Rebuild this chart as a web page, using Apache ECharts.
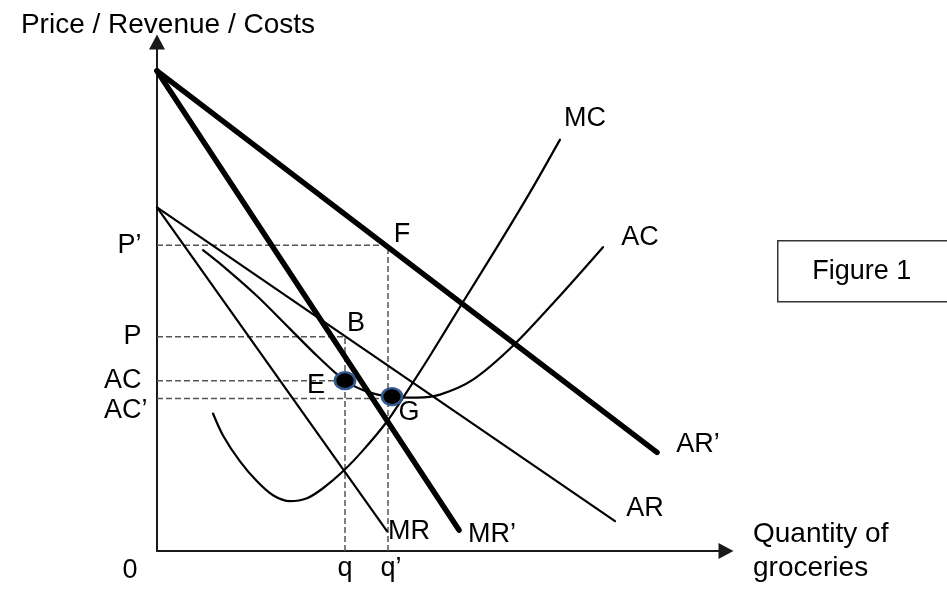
<!DOCTYPE html>
<html lang="en">
<head>
<meta charset="UTF-8">
<title>Figure 1</title>
<script src="https://cdn.jsdelivr.net/npm/echarts@6/dist/echarts.min.js"></script>
<style>
    html, body {
        margin: 0;
        padding: 0;
        background: #fff;
        overflow: hidden;
    }
    #chart {
        width: 947px;
        height: 594px;
    }
</style>
</head>
<body>
<div id="chart"></div>
<script>
// revenue lines, [quantity, price]
var arNew = [[0, 482], [500, 99]];   // AR'
var mrNew = [[0, 482], [302, 21]];   // MR'
var ar = [[0, 345], [458, 30]];
var mr = [[0, 345], [230, 20]];

// cost curves
var mc = [[56, 138], [66, 116], [83, 90], [100, 70], [116, 56], [133, 50], [150, 53], [166, 63],
          [186, 80], [206, 101], [230, 130], [250, 160], [273, 196], [306, 250], [340, 305],
          [373, 360], [403, 413]];
var ac = [[46, 302], [66, 286], [100, 256], [133, 223], [160, 196], [188, 171], [210, 160],
          [233, 155], [260, 154], [283, 157], [316, 172], [356, 206], [400, 253], [446, 305]];

// levels on the price axis and where their dashed guide stops
var levelNames = ['P’', 'P', 'AC', 'AC’'];
var levelValues = [307, 215, 171, 153];
var levelEnds = [231, 188, 188, 235];

// quantities on the x axis and how high their guide goes
var qNames = ['q', 'q’'];
var qValues = [188, 231];
var qTops = [215, 307];

// marked points
var pointNames = ['F', 'B', 'E', 'G'];
var pointValues = [[231, 307], [188, 215], [188, 171], [235, 155]];
var dotNames = ['E', 'G'];

var font = 'Liberation Sans, Arial, sans-serif';
var txt = { color: '#000', fontSize: 27, fontFamily: font };

// label offsets (text centre relative to anchor, px)
var curveLabelOffset = { 'MC': [25, -21], 'AC': [37, -10], 'AR’': [41, -8], 'AR': [30, -13], 'MR': [22, 0], 'MR’': [33, 4] };
var pointLabelOffset = { F: [14, -11], B: [11, -13], E: [-29, 5], G: [17, 16] };

function curve(data, width, smooth) {
    return {
        type: 'line', data: data, smooth: smooth, symbol: 'none', silent: true, z: 3,
        lineStyle: { color: '#000', width: width, cap: 'round', join: 'round' }
    };
}

var dash = { color: '#555', width: 1.5, type: [6, 3] };
var series = [];

levelNames.forEach(function (n, i) {
    series.push({
        type: 'line', symbol: 'none', silent: true, z: 1, lineStyle: dash,
        data: [[0, levelValues[i]], [levelEnds[i], levelValues[i]]]
    });
});
qNames.forEach(function (n, i) {
    series.push({
        type: 'line', symbol: 'none', silent: true, z: 1, lineStyle: dash,
        data: [[qValues[i], 0], [qValues[i], qTops[i]]]
    });
});

series.push(curve(ar, 2.2, false));
series.push(curve(mr, 2.2, false));
series.push(curve(mc, 2.2, 0.3));
series.push(curve(ac, 2.2, 0.3));
series.push(curve(arNew, 5.5, false));
series.push(curve(mrNew, 5.5, false));

// E and G dots
series.push({
    type: 'scatter', z: 5, silent: true,
    symbolSize: [20, 17],
    itemStyle: { color: '#000', borderColor: '#34598f', borderWidth: 2.5, opacity: 1 },
    data: dotNames.map(function (n) { return pointValues[pointNames.indexOf(n)]; })
});

var hidden = { color: 'rgba(0,0,0,0)', opacity: 1 };

// labels on the price axis
series.push({
    type: 'scatter', z: 6, silent: true, symbolSize: 1,
    itemStyle: hidden,
    label: Object.assign({ show: true, position: 'left', distance: 15, formatter: '{b}' }, txt),
    data: levelNames.map(function (n, i) {
        var item = { name: n, value: [0, levelValues[i]] };
        if (n === 'AC’') item.label = { offset: [6, 12] };
        return item;
    })
});

// all other text anchored to a data point
var centred = [];
centred.push({ name: '0', value: [0, 0], label: { offset: [-27, 20] } });
qNames.forEach(function (n, i) {
    centred.push({ name: n, value: [qValues[i], 0], label: { offset: [i === 0 ? 0 : 3, 18] } });
});
pointNames.forEach(function (n, i) {
    centred.push({ name: n, value: pointValues[i], label: { offset: pointLabelOffset[n] } });
});
var curveEnds = [['AR’', arNew], ['MR’', mrNew], ['AR', ar], ['MR', mr], ['MC', mc], ['AC', ac]];
curveEnds.forEach(function (c) {
    centred.push({ name: c[0], value: c[1][c[1].length - 1], label: { offset: curveLabelOffset[c[0]] } });
});
series.push({
    type: 'scatter', z: 6, silent: true, symbolSize: 1,
    itemStyle: hidden,
    label: Object.assign({ show: true, position: 'inside', formatter: '{b}' }, txt),
    data: centred
});

var axisBase = {
    type: 'value', min: 0,
    splitLine: { show: false }, axisTick: { show: false }, axisLabel: { show: false },
    axisLine: { show: true, symbol: ['none', 'triangle'], symbolSize: [16, 15],
                lineStyle: { color: '#1a1a1a', width: 2 } }
};

var option = {
    animation: false,
    backgroundColor: '#fff',
    grid: { left: 157, right: 221, top: 42, bottom: 41 },
    xAxis: Object.assign({}, axisBase, {
        max: 569,
        name: 'Quantity of\ngroceries', nameLocation: 'end', nameGap: 27,
        nameTextStyle: { color: '#000', fontSize: 28, fontFamily: font, lineHeight: 34, align: 'left', padding: [18, 0, 0, 0] }
    }),
    yAxis: Object.assign({}, axisBase, {
        max: 511,
        name: 'Price / Revenue / Costs', nameLocation: 'end', nameGap: 3,
        nameTextStyle: { color: '#000', fontSize: 28, fontFamily: font, padding: [0, 0, 0, 22] }
    }),
    graphic: [{
        type: 'group', left: 777, top: 240,
        children: [
            { type: 'rect', shape: { x: 0, y: 0, width: 200, height: 61 },
              style: { fill: '#fff', stroke: '#333', lineWidth: 1.5 } },
            { type: 'text', x: 84, y: 31,
              style: { text: 'Figure 1', fill: '#000', font: '27px ' + font, align: 'center', verticalAlign: 'middle' } }
        ]
    }],
    series: series
};

var chart = echarts.init(document.getElementById('chart'));
chart.setOption(option);
</script>
</body>
</html>
